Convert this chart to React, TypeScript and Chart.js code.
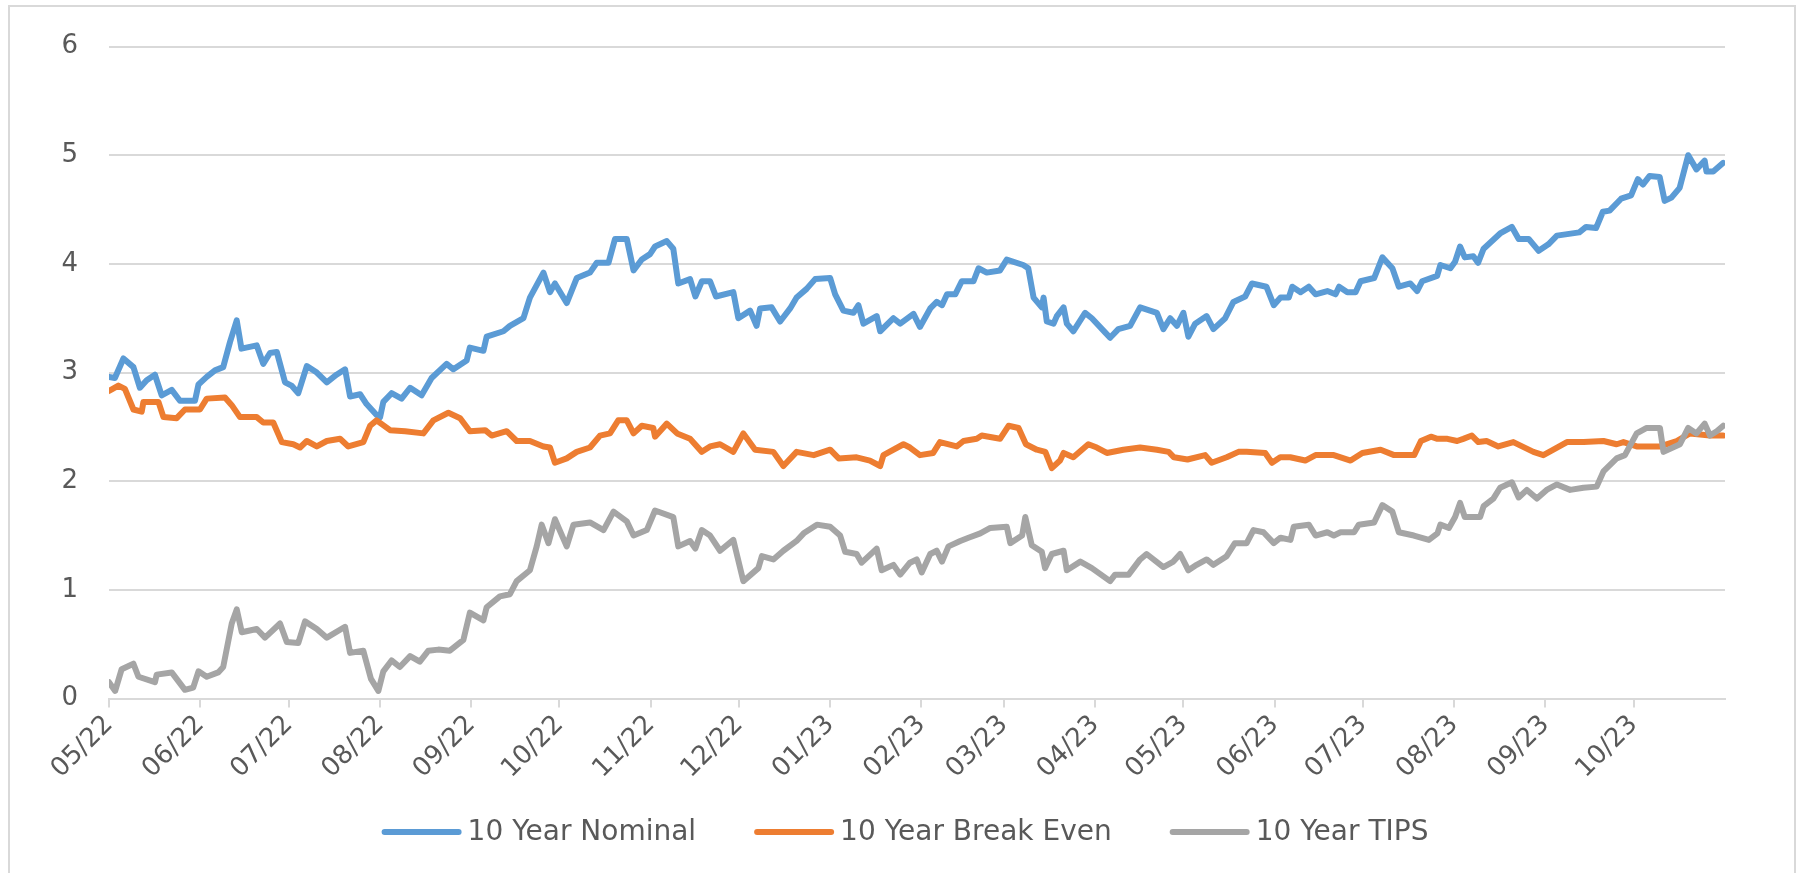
import React, { useEffect, useRef } from 'react';
import { Chart, registerables } from 'chart.js';

Chart.register(...registerables);

// x axis: calendar days since 2022-05-01; ticks at the first day of each month
const TICK_DAYS = [0, 31, 61, 92, 123, 153, 184, 214, 245, 276, 304, 335, 365, 396, 426, 457, 488, 518];
const TICK_LABELS = ['05/22', '06/22', '07/22', '08/22', '09/22', '10/22', '11/22', '12/22', '01/23', '02/23', '03/23', '04/23', '05/23', '06/23', '07/23', '08/23', '09/23', '10/23'];
const AXIS_END_DAY = 549;
const Y_TICKS_MAX = 6;

const NOMINAL_DAYS = [0, 2, 4.9, 8.3, 10.5, 12.8, 15.6, 17.9, 21.3, 24.1, 29.2, 30.4, 33.2, 36, 38.8, 41.1, 43.4, 45, 50.2, 52.4, 54.7, 57, 59.8, 62, 64.3, 67.2, 70.6, 74, 77.3, 80.2, 81.9, 85.3, 87.5, 90.9, 92.1, 93.2, 96, 99.4, 102.3, 106.2, 109.6, 114.7, 117, 121.5, 122.6, 127.2, 128.3, 134, 136.2, 140.8, 143, 147.6, 149.8, 151.5, 155.5, 158.9, 163.4, 165.7, 169.7, 171.9, 175.9, 178.2, 181, 183.8, 185.5, 189.5, 191.7, 193.4, 197.4, 199.2, 201.4, 204.2, 206.2, 212.1, 213.8, 217.8, 220, 221.2, 225.1, 228, 231.4, 233.6, 237, 239.9, 245, 246.7, 249.5, 252.9, 254.6, 256.3, 260.8, 262, 266.5, 268.8, 273.3, 275.5, 279, 281.2, 283, 284.7, 287.5, 289.7, 293.7, 295.4, 298.2, 302.7, 305, 310.6, 312.3, 314.1, 316.9, 317.5, 318.6, 320.9, 322, 324.3, 325.4, 327.6, 331.6, 333.9, 338.4, 340.1, 342.9, 346.9, 350.3, 356, 358.2, 360.5, 362.8, 365, 366.7, 369, 372.9, 375.2, 379.2, 382, 386, 388.3, 393.2, 395.7, 398, 400.8, 402, 404.8, 407.6, 409.9, 413.9, 416.7, 417.9, 420.7, 423.5, 425.2, 429.8, 432.6, 436, 438.2, 442.1, 444.4, 446.1, 451.2, 452.3, 455.7, 457.3, 459, 460.6, 463.5, 465.1, 467, 472.6, 476.6, 478.9, 482.3, 485.7, 489, 491.9, 499.5, 501.8, 505.2, 507.5, 509.8, 513.7, 517.1, 519.4, 521.1, 523.4, 526.8, 528.5, 530.8, 533.6, 536.5, 539.3, 542.1, 542.7, 545, 548.4];
const NOMINAL = [2.96, 2.95, 3.13, 3.05, 2.86, 2.93, 2.98, 2.79, 2.84, 2.74, 2.74, 2.89, 2.96, 3.02, 3.05, 3.28, 3.48, 3.22, 3.25, 3.08, 3.18, 3.19, 2.91, 2.88, 2.81, 3.06, 3.0, 2.91, 2.98, 3.03, 2.78, 2.8, 2.71, 2.61, 2.59, 2.73, 2.81, 2.76, 2.86, 2.79, 2.95, 3.08, 3.03, 3.11, 3.23, 3.2, 3.33, 3.38, 3.43, 3.5, 3.69, 3.92, 3.74, 3.82, 3.64, 3.87, 3.92, 4.01, 4.01, 4.23, 4.23, 3.94, 4.04, 4.09, 4.16, 4.21, 4.14, 3.82, 3.86, 3.7, 3.84, 3.84, 3.7, 3.74, 3.5, 3.57, 3.43, 3.59, 3.6, 3.47, 3.59, 3.69, 3.77, 3.86, 3.87, 3.72, 3.57, 3.55, 3.62, 3.45, 3.52, 3.38, 3.5, 3.45, 3.54, 3.42, 3.59, 3.65, 3.62, 3.72, 3.72, 3.84, 3.84, 3.96, 3.92, 3.94, 4.04, 3.99, 3.96, 3.69, 3.6, 3.69, 3.47, 3.45, 3.52, 3.6, 3.45, 3.38, 3.55, 3.5, 3.37, 3.32, 3.4, 3.43, 3.6, 3.55, 3.4, 3.5, 3.43, 3.55, 3.33, 3.45, 3.52, 3.4, 3.5, 3.65, 3.7, 3.82, 3.79, 3.62, 3.69, 3.69, 3.79, 3.74, 3.79, 3.72, 3.75, 3.72, 3.79, 3.74, 3.74, 3.84, 3.87, 4.06, 3.96, 3.79, 3.82, 3.75, 3.84, 3.89, 3.99, 3.96, 4.02, 4.16, 4.06, 4.07, 4.01, 4.14, 4.28, 4.34, 4.23, 4.23, 4.12, 4.18, 4.26, 4.29, 4.34, 4.33, 4.48, 4.49, 4.6, 4.63, 4.78, 4.73, 4.81, 4.8, 4.58, 4.61, 4.7, 5.0, 4.87, 4.95, 4.85, 4.85, 4.93];

const BREAKEVEN_DAYS = [0, 3.2, 5.4, 8.3, 11.1, 11.7, 16.8, 18.5, 23, 25.8, 30.9, 33.2, 39.4, 41.7, 44.5, 50.2, 52.4, 55.8, 58.7, 62.6, 64.9, 67.2, 70.6, 74, 78.5, 81.3, 86.4, 88.7, 90.9, 95.5, 100.6, 106.8, 110.2, 115.3, 119.3, 122.6, 127.8, 130, 135.1, 138.5, 143, 147.6, 149.8, 151.5, 155.5, 158.9, 163.4, 166.8, 170.2, 173, 175.9, 178.2, 181, 184.9, 185.5, 189.5, 193, 197.4, 201.4, 204.2, 207.6, 212.1, 215.5, 219.5, 225.7, 229.1, 233.6, 239.4, 245, 247.9, 254, 258.5, 262, 263.1, 269.9, 272.1, 275.5, 280, 282.3, 288, 290.3, 294.8, 296.5, 302.7, 305.6, 309, 311.5, 315.2, 318.1, 320.3, 323.1, 324.3, 327.6, 332.7, 335.6, 339, 344.6, 350.3, 356, 360, 361.8, 366.4, 372.4, 374.6, 379.7, 383.7, 386.5, 392.8, 395.1, 397.9, 401.3, 406.4, 409.9, 416.1, 421.8, 425.8, 432, 436.6, 443.4, 445.7, 449.1, 451.3, 454.7, 458, 460.1, 463, 465.2, 468, 472, 477.1, 483.9, 487.3, 490.7, 495.3, 501, 507.7, 512.2, 514.5, 519, 527, 532.6, 537.1, 543.9, 548.4];
const BREAKEVEN = [2.83, 2.88, 2.85, 2.66, 2.64, 2.73, 2.73, 2.59, 2.58, 2.66, 2.66, 2.76, 2.77, 2.7, 2.59, 2.59, 2.54, 2.54, 2.36, 2.34, 2.31, 2.37, 2.32, 2.37, 2.39, 2.32, 2.36, 2.51, 2.56, 2.47, 2.46, 2.44, 2.56, 2.63, 2.58, 2.46, 2.47, 2.42, 2.46, 2.37, 2.37, 2.32, 2.31, 2.17, 2.21, 2.27, 2.31, 2.42, 2.44, 2.56, 2.56, 2.44, 2.51, 2.49, 2.41, 2.53, 2.44, 2.39, 2.27, 2.32, 2.34, 2.27, 2.44, 2.29, 2.27, 2.14, 2.27, 2.24, 2.29, 2.21, 2.22, 2.19, 2.14, 2.24, 2.34, 2.31, 2.24, 2.26, 2.36, 2.32, 2.37, 2.39, 2.42, 2.39, 2.51, 2.49, 2.34, 2.29, 2.27, 2.12, 2.19, 2.26, 2.22, 2.34, 2.31, 2.26, 2.29, 2.31, 2.29, 2.27, 2.22, 2.2, 2.24, 2.17, 2.22, 2.27, 2.27, 2.26, 2.17, 2.22, 2.22, 2.19, 2.24, 2.24, 2.19, 2.26, 2.29, 2.24, 2.24, 2.37, 2.41, 2.39, 2.39, 2.37, 2.39, 2.42, 2.36, 2.37, 2.32, 2.36, 2.27, 2.24, 2.29, 2.36, 2.36, 2.37, 2.34, 2.36, 2.32, 2.32, 2.37, 2.44, 2.42, 2.42];

const TIPS_DAYS = [0, 2.1, 4.3, 8.3, 10, 15.6, 16.2, 21.3, 25.8, 28.6, 30.4, 33.2, 37.1, 38.8, 41.7, 43.4, 45.1, 50.2, 53, 58.1, 60.4, 64.3, 66.6, 70.6, 74, 80.2, 81.9, 86.4, 89, 91.5, 93.2, 96, 98.8, 102.3, 105.6, 108.5, 111.9, 115.8, 120.4, 122.6, 127.2, 128.3, 132.8, 136.2, 138.5, 143, 145.3, 147, 149.3, 151.5, 155.5, 157.8, 163.4, 168, 171.4, 175.9, 178.2, 182.7, 185.5, 191.7, 193.4, 197.4, 199.2, 201.4, 204.2, 207.6, 212.1, 215.5, 220.6, 221.8, 225.7, 229.1, 233.6, 236, 240.5, 245, 248.4, 250.1, 254, 255.7, 260.8, 262.5, 266.5, 268.8, 272.1, 274.4, 276.1, 279, 281.2, 283, 285.2, 289.2, 292, 296, 299.4, 305, 306.2, 310.2, 311.3, 313.5, 316.9, 318, 320.3, 324.3, 325.4, 330, 333.9, 340.1, 341.8, 346.4, 350.3, 352.5, 358.2, 361.6, 363.9, 366.7, 369.5, 372.9, 375.2, 379.7, 382.5, 386.5, 388.8, 392.2, 395.7, 398, 401.4, 402.5, 407.6, 409.9, 413.9, 416.1, 418.4, 423, 424.6, 429.8, 432.6, 436, 438.2, 443.3, 448.4, 451.3, 452.3, 455.2, 457.3, 459, 460.6, 465.8, 467, 470.3, 472.6, 476.6, 478.9, 481.7, 485.1, 488.4, 491.9, 496.4, 500.9, 505.4, 507.7, 512.2, 515, 519, 522.4, 526.9, 528.1, 533.7, 536.5, 539.3, 542.1, 543.9, 546.2, 548.4];
const TIPS = [0.15, 0.07, 0.27, 0.32, 0.2, 0.15, 0.22, 0.24, 0.08, 0.1, 0.25, 0.2, 0.24, 0.29, 0.69, 0.82, 0.61, 0.64, 0.56, 0.69, 0.52, 0.51, 0.71, 0.64, 0.56, 0.66, 0.42, 0.44, 0.18, 0.07, 0.25, 0.35, 0.29, 0.39, 0.34, 0.44, 0.45, 0.44, 0.54, 0.79, 0.72, 0.84, 0.94, 0.96, 1.08, 1.18, 1.4, 1.6, 1.43, 1.65, 1.4, 1.6, 1.62, 1.55, 1.72, 1.63, 1.5, 1.55, 1.73, 1.67, 1.4, 1.45, 1.38, 1.55, 1.5, 1.36, 1.46, 1.08, 1.2, 1.31, 1.28, 1.36, 1.45, 1.52, 1.6, 1.58, 1.5, 1.35, 1.33, 1.25, 1.38, 1.18, 1.23, 1.14, 1.25, 1.28, 1.16, 1.33, 1.36, 1.26, 1.4, 1.45, 1.48, 1.52, 1.57, 1.58, 1.43, 1.5, 1.67, 1.41, 1.35, 1.2, 1.33, 1.36, 1.18, 1.26, 1.2, 1.08, 1.14, 1.14, 1.28, 1.33, 1.21, 1.26, 1.33, 1.18, 1.23, 1.28, 1.23, 1.31, 1.43, 1.43, 1.55, 1.53, 1.43, 1.48, 1.46, 1.58, 1.6, 1.5, 1.53, 1.5, 1.53, 1.53, 1.6, 1.62, 1.78, 1.72, 1.53, 1.5, 1.46, 1.52, 1.6, 1.57, 1.67, 1.8, 1.67, 1.67, 1.77, 1.84, 1.94, 1.99, 1.85, 1.92, 1.84, 1.92, 1.97, 1.92, 1.94, 1.95, 2.09, 2.21, 2.24, 2.44, 2.49, 2.49, 2.27, 2.34, 2.49, 2.44, 2.53, 2.42, 2.46, 2.51];

const SERIES_LABELS = ['10 Year Nominal', '10 Year Break Even', '10 Year TIPS'];
const SERIES_COLORS = ['#5B9BD5', '#ED7D31', '#A5A5A5'];

const FONT = '"DejaVu Sans", sans-serif';
const TEXT_COLOR = '#595959';
const GRID_COLOR = '#d9d9d9';

const W = 1799;
const H = 873;

const toPoints = (days: number[], vals: number[]) => days.map((d, i) => ({ x: d, y: vals[i] }));

const framePlugin = {
  id: 'frame',
  beforeDraw(chart: any) {
    const ctx = chart.ctx;
    ctx.save();
    ctx.fillStyle = '#ffffff';
    ctx.fillRect(0, 0, chart.width, chart.height);
    ctx.strokeStyle = GRID_COLOR;
    ctx.lineWidth = 2;
    ctx.strokeRect(9, 6, 1786, 900);
    ctx.restore();
  },
};

const legendPlugin = {
  id: 'lineLegend',
  afterDraw(chart: any) {
    const ctx = chart.ctx;
    ctx.save();
    ctx.font = `28px ${FONT}`;
    const items = chart.data.datasets.map((ds: any) => ({
      label: ds.label,
      color: ds.borderColor,
      w: ctx.measureText(ds.label).width,
    }));
    const lineW = 80;
    const gap = 6;
    const sep = 58;
    const total = items.reduce((s: number, it: any) => s + lineW + gap + it.w, 0) + sep * (items.length - 1);
    let x = 905 - total / 2;
    const y = 832;
    for (const it of items) {
      ctx.strokeStyle = it.color;
      ctx.lineWidth = 6;
      ctx.lineCap = 'round';
      ctx.beginPath();
      ctx.moveTo(x + 3, y);
      ctx.lineTo(x + lineW - 3, y);
      ctx.stroke();
      ctx.fillStyle = TEXT_COLOR;
      ctx.textBaseline = 'middle';
      ctx.textAlign = 'left';
      ctx.fillText(it.label, x + lineW + gap, y + 1);
      x += lineW + gap + it.w + sep;
    }
    ctx.restore();
  },
};

export default function App() {
  const ref = useRef<HTMLCanvasElement | null>(null);

  useEffect(() => {
    if (!ref.current) return;
    const common = {
      pointRadius: 0,
      borderWidth: 6,
      borderJoinStyle: 'round' as const,
      borderCapStyle: 'round' as const,
      tension: 0,
      fill: false,
    };
    const chart = new Chart(ref.current, {
      type: 'line',
      data: {
        datasets: [
          { ...common, label: SERIES_LABELS[0], borderColor: SERIES_COLORS[0], backgroundColor: SERIES_COLORS[0], data: toPoints(NOMINAL_DAYS, NOMINAL), order: 2 },
          { ...common, label: SERIES_LABELS[1], borderColor: SERIES_COLORS[1], backgroundColor: SERIES_COLORS[1], data: toPoints(BREAKEVEN_DAYS, BREAKEVEN), order: 1 },
          { ...common, label: SERIES_LABELS[2], borderColor: SERIES_COLORS[2], backgroundColor: SERIES_COLORS[2], data: toPoints(TIPS_DAYS, TIPS), order: 0 },
        ],
      },
      options: {
        responsive: false,
        animation: false,
        layout: { padding: { top: 38.5, right: 74, bottom: 0, left: 0 } },
        plugins: {
          legend: { display: false },
          tooltip: { enabled: false },
        },
        scales: {
          x: {
            type: 'linear',
            min: 0,
            max: AXIS_END_DAY,
            afterBuildTicks: (scale: any) => {
              scale.ticks = TICK_DAYS.map((v) => ({ value: v }));
            },
            afterFit: (scale: any) => {
              scale.height = H - 698.5;
            },
            ticks: {
              autoSkip: false,
              maxRotation: 45,
              minRotation: 45,
              color: TEXT_COLOR,
              font: { family: FONT, size: 26 },
              padding: 2,
              callback: (_v: any, i: number) => TICK_LABELS[i],
            },
            grid: { drawOnChartArea: false, drawTicks: true, tickLength: 9, color: GRID_COLOR, lineWidth: 2 },
            border: { display: true, color: GRID_COLOR, width: 2 },
          },
          y: {
            min: 0,
            max: Y_TICKS_MAX,
            afterFit: (scale: any) => {
              scale.width = 109;
            },
            ticks: {
              stepSize: 1,
              color: TEXT_COLOR,
              font: { family: FONT, size: 26 },
              padding: 31,
            },
            grid: { color: GRID_COLOR, lineWidth: 2, drawTicks: false },
            border: { display: false },
          },
        },
      } as any,
      plugins: [framePlugin, legendPlugin],
    });
    return () => chart.destroy();
  }, []);

  return (
    <div style={{ position: 'absolute', left: 0, top: 0, width: W, height: H }}>
      <canvas ref={ref} width={W} height={H} style={{ display: 'block', width: W, height: H }} />
    </div>
  );
}
